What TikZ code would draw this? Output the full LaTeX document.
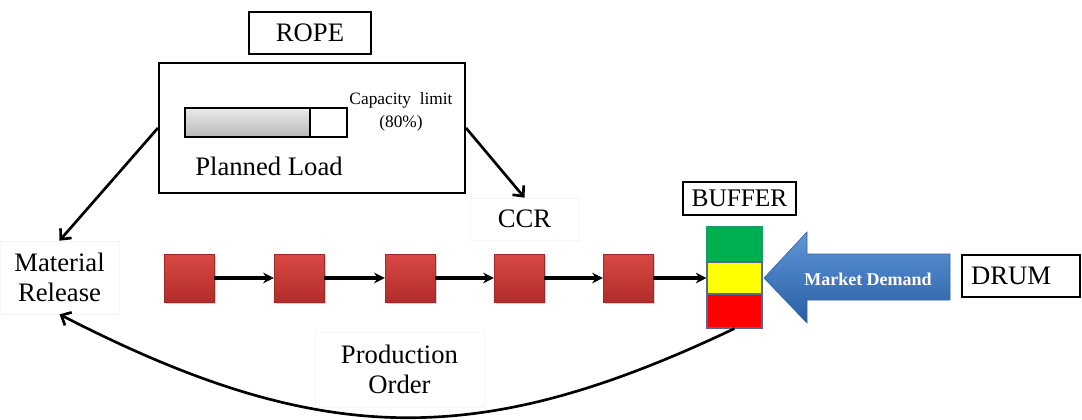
\documentclass[tikz,border=0pt]{standalone}
\usepackage{fontspec}
\setmainfont{Liberation Serif}
\usetikzlibrary{arrows.meta,shadows}
\definecolor{sqtop}{RGB}{217,72,68}
\definecolor{sqbot}{RGB}{178,44,41}
\definecolor{bgreen}{RGB}{0,176,80}
\definecolor{byellow}{RGB}{255,255,0}
\definecolor{bred}{RGB}{255,0,0}
\definecolor{bborder}{RGB}{80,105,145}
\definecolor{mdtop}{RGB}{95,150,215}
\definecolor{mdbot}{RGB}{40,95,165}
\definecolor{mdedge}{RGB}{55,100,160}
\begin{document}
\begin{tikzpicture}[x=0.75pt,y=-0.75pt,
  box/.style={draw=black, line width=1.6pt, inner sep=0pt, font=\fontsize{20pt}{22pt}\selectfont},
  faint/.style={draw=black!4, line width=0.5pt, inner sep=0pt, align=center, font=\fontsize{20pt}{22.5pt}\selectfont},
  sq/.style={inner sep=0pt, minimum width=50*0.75pt, minimum height=48*0.75pt, top color=sqtop, bottom color=sqbot, draw=sqbot!90!black, line width=0.3pt, drop shadow={shadow xshift=1.2pt, shadow yshift=-1.2pt, opacity=0.35}},
  seg/.style={inner sep=0pt, minimum width=55*0.75pt, draw=bborder, line width=0.8pt},
  chain/.style={line width=2.5pt, -{Stealth[length=8pt,width=8pt]}},
  rope/.style={line width=2pt, -{Straight Barb[length=6pt,width=11pt,line width=2pt]}},
]
\useasboundingbox (0,0) rectangle (1082,419);

% ROPE and load box
\node[box, minimum width=122*0.75pt, minimum height=42*0.75pt] (rope) at (310,33) {ROPE};
\node[box, minimum width=306*0.75pt, minimum height=130*0.75pt] (bigbox) at (312,128) {};
\path[top color=black!8, bottom color=black!28] (185,108) rectangle (310,137);
\node[draw=black, line width=1.7pt, inner sep=0pt, minimum width=162*0.75pt, minimum height=29*0.75pt] (bar) at (266,122.5) {};
\draw[line width=1.5pt] (310,108) -- (310,137);
\node[align=center, inner sep=0pt, font=\fontsize{13pt}{17pt}\selectfont] (cap) at (401,111.5) {Capacity\ \ limit\\(80\%)};
\node[inner sep=0pt, font=\fontsize{20pt}{22pt}\selectfont] (planned) at (269,166) {Planned Load};

% labels
\node[faint, minimum width=119*0.75pt, minimum height=73*0.75pt] (mr) at (59.5,277.5) {Material\\Release};
\node[faint, minimum width=109*0.75pt, minimum height=42*0.75pt] (ccr) at (524.5,219) {CCR};
\node[faint, minimum width=169*0.75pt, minimum height=75*0.75pt] (po) at (399.5,369.5) {Production\\Order};

% rope arrows
\draw[rope] (bigbox.west) -- (mr.north);
\draw[rope] (bigbox.east) -- (ccr.north);

% buffer
\node[box, font=\fontsize{19pt}{21pt}\selectfont, minimum width=113*0.75pt, minimum height=33*0.75pt] (buflabel) at (739.5,198.5) {BUFFER};
\node[seg, fill=bgreen, draw=bgreen!70!bborder, minimum height=35*0.75pt] (bg) at (734.5,244.5) {};
\node[seg, fill=byellow, minimum height=32*0.75pt] (by) at (734.5,278) {};
\node[seg, fill=bred, minimum height=34*0.75pt] (br) at (734.5,311) {};

% chain of resources
\node[sq] (s1) at (189,278) {};
\node[sq] (s2) at (299,278) {};
\node[sq] (s3) at (410,278) {};
\node[sq] (s4) at (519,278) {};
\node[sq] (s5) at (628,278) {};
\draw[chain] (s1.east) -- (s2.west);
\draw[chain] (s2.east) -- (s3.west);
\draw[chain] (s3.east) -- (s4.west);
\draw[chain] (s4.east) -- (s5.west);
\draw[chain] (s5.east) -- (by.west);

% market demand arrow
\path[top color=mdtop, bottom color=mdbot, draw=mdedge, line width=0.5pt]
  (950,254) -- (807,254) -- (807,232) -- (764,278) -- (807,323) -- (807,300) -- (950,300) -- cycle;
\node[text=white, inner sep=0pt, font=\bfseries\fontsize{13.5pt}{15pt}\selectfont] (md) at (868,279) {Market Demand};

% drum
\node[box, minimum width=118*0.75pt, minimum height=42*0.75pt] (drum) at (1021,276) {DRUM\hspace*{15pt}};

% production order feedback
\draw[line width=2pt, -{Straight Barb[length=6pt,width=11pt,line width=2pt]}]
  (br.south) .. controls (481,449) and (323,450) .. (mr.south);
\end{tikzpicture}
\end{document}
